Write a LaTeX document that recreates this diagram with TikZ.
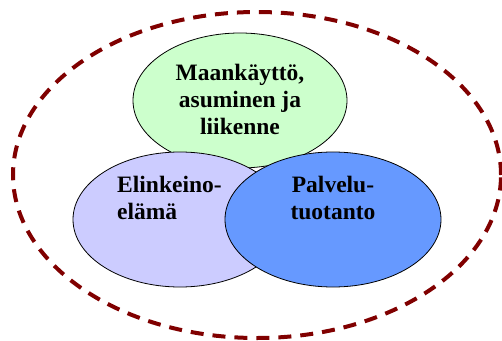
\documentclass[tikz,border=0pt]{standalone}
\usepackage{fontspec}
\setmainfont{Liberation Serif}
\usepackage{xcolor}
\usepackage{tikz}
\usetikzlibrary{shapes.geometric}
\definecolor{dred}{HTML}{800000}
\definecolor{landgreen}{HTML}{CCFFCC}
\definecolor{tradelilac}{HTML}{CCCCFF}
\definecolor{serviceblue}{HTML}{6699FF}
\newcommand\areafont{\fontsize{23.5pt}{27pt}\selectfont\bfseries}
\tikzstyle{region}=[ellipse,draw=dred,line width=4pt,dash pattern=on 13pt off 9pt,
  minimum width=488pt,minimum height=326pt,inner sep=0pt]
\tikzstyle{sector}=[ellipse,draw=black,line width=.8pt,minimum height=135pt,inner sep=0pt]
\tikzstyle{sectortext}=[font=\areafont,inner sep=0pt]

\begin{document}
\begin{tikzpicture}[x=1pt,y=1pt]
	\useasboundingbox (0,0) rectangle (502,340);
	\node[region] (whole) at (257,165) {};
	\node[sector,fill=landgreen,minimum width=214pt] (land) at (240,239.5) {};
	\node[sector,fill=tradelilac,minimum width=214pt] (trade) at (180,120.5) {};
	\node[sector,fill=serviceblue,minimum width=216pt] (service) at (333,120.5) {};
	% texts
	\node[sectortext,align=center] (landtxt) at ([yshift=1pt]land.center)
	  {Maankäyttö,\\asuminen ja\\liikenne};
	\node[sectortext,align=left,anchor=west] (tradetxt) at ([xshift=-63pt,yshift=22pt]trade.center)
	  {Elinkeino-\\elämä};
	\node[sectortext,align=center] (servicetxt) at ([yshift=22pt]service.center)
	  {Palvelu-\\tuotanto};
\end{tikzpicture}
\end{document}
